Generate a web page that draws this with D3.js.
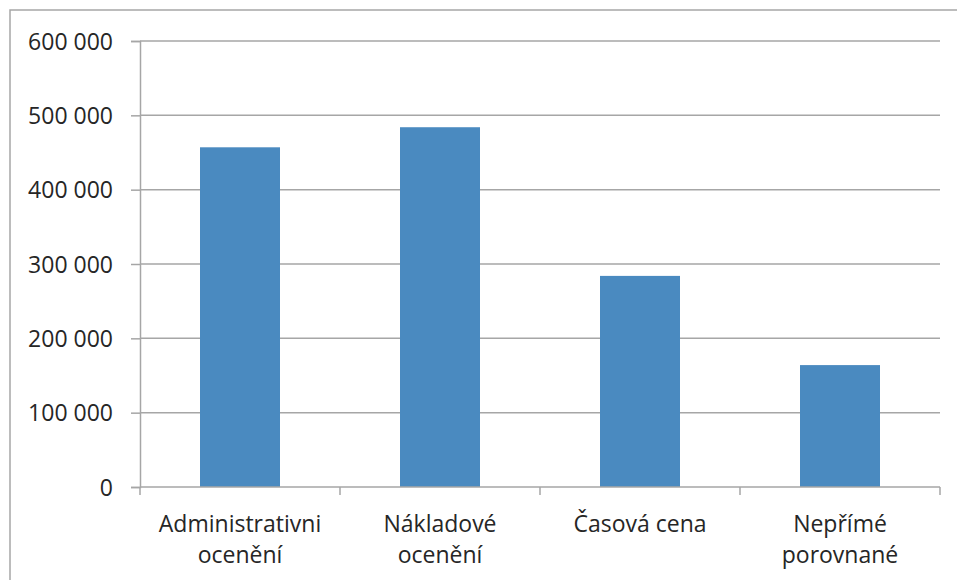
<!DOCTYPE html>
<html>
<head>
<meta charset="utf-8">
<script src="https://cdn.jsdelivr.net/npm/d3@7"></script>
<style>
  body { margin: 0; background: #fff; }
  svg { display: block; font-family: "Open Sans", sans-serif; }
</style>
</head>
<body>
<div id="chart"></div>
<script>
// data
const categories = ["Administrativni ocenění", "Nákladové ocenění", "Časová cena", "Nepřímé porovnané"];
const labelLines = [["Administrativni", "ocenění"], ["Nákladové", "ocenění"], ["Časová cena"], ["Nepřímé", "porovnané"]];
const values = [457000, 484000, 284000, 164000];
const yTicks = [0, 100000, 200000, 300000, 400000, 500000, 600000];

const width = 957, height = 580;
const margin = { top: 41, right: 17, bottom: 93, left: 140 };

const svg = d3.select("#chart").append("svg")
  .attr("width", width).attr("height", height);

// outer frame (runs off the right/bottom of the picture)
svg.append("rect").attr("x", 10).attr("y", 10).attr("width", 960).attr("height", 600)
  .attr("fill", "none").attr("stroke", "#a6a6a6").attr("stroke-width", 1.5);

const x = d3.scaleBand().domain(categories)
  .range([margin.left, width - margin.right]).paddingInner(0.6).paddingOuter(0.3);
const y = d3.scaleLinear().domain([0, 600000]).range([height - margin.bottom, margin.top]);

const fmt = v => d3.format(",")(v).replace(/,/g, " ");

// gridlines
svg.append("g").selectAll("line").data(yTicks.filter(d => d > 0)).join("line")
  .attr("x1", margin.left).attr("x2", width - margin.right)
  .attr("y1", d => y(d)).attr("y2", d => y(d))
  .attr("stroke", "#a6a6a6").attr("stroke-width", 1.5);

// bars
svg.append("g").selectAll("rect").data(values).join("rect")
  .attr("x", (d, i) => x(categories[i]))
  .attr("y", d => y(d))
  .attr("width", x.bandwidth())
  .attr("height", d => y(0) - y(d))
  .attr("fill", "#4a8ac0");

// y axis
const yAxis = svg.append("g").attr("transform", `translate(${margin.left},0)`)
  .call(d3.axisLeft(y).tickValues(yTicks).tickFormat(fmt).tickSize(9).tickPadding(18));
yAxis.select(".domain").attr("stroke", "#a6a6a6").attr("stroke-width", 1.5);
yAxis.selectAll(".tick line").attr("stroke", "#a6a6a6").attr("stroke-width", 1.5);
yAxis.selectAll(".tick text").attr("font-size", 23).attr("fill", "#262626")
  .attr("font-family", "'Open Sans', sans-serif").attr("dy", "0.35em");

// x axis
const step = x.step();
const xBase = svg.append("g").attr("transform", `translate(0,${y(0)})`);
xBase.append("line").attr("x1", margin.left).attr("x2", width - margin.right)
  .attr("stroke", "#a6a6a6").attr("stroke-width", 1.5);
const boundaries = d3.range(categories.length + 1).map(i => margin.left + i * step);
xBase.selectAll("line.tk").data(boundaries).join("line").attr("class", "tk")
  .attr("x1", d => d).attr("x2", d => d).attr("y1", 0).attr("y2", 8)
  .attr("stroke", "#a6a6a6").attr("stroke-width", 1.5);

const lab = svg.append("g").selectAll("text").data(categories).join("text")
  .attr("text-anchor", "middle").attr("font-size", 23).attr("fill", "#262626")
  .attr("x", d => x(d) + x.bandwidth() / 2).attr("y", y(0) + 45);
lab.selectAll("tspan").data((d, i) => labelLines[i]).join("tspan")
  .attr("x", function () { return this.parentNode.getAttribute("x"); })
  .attr("dy", (d, j) => j === 0 ? 0 : 31)
  .text(d => d);
</script>
</body>
</html>
